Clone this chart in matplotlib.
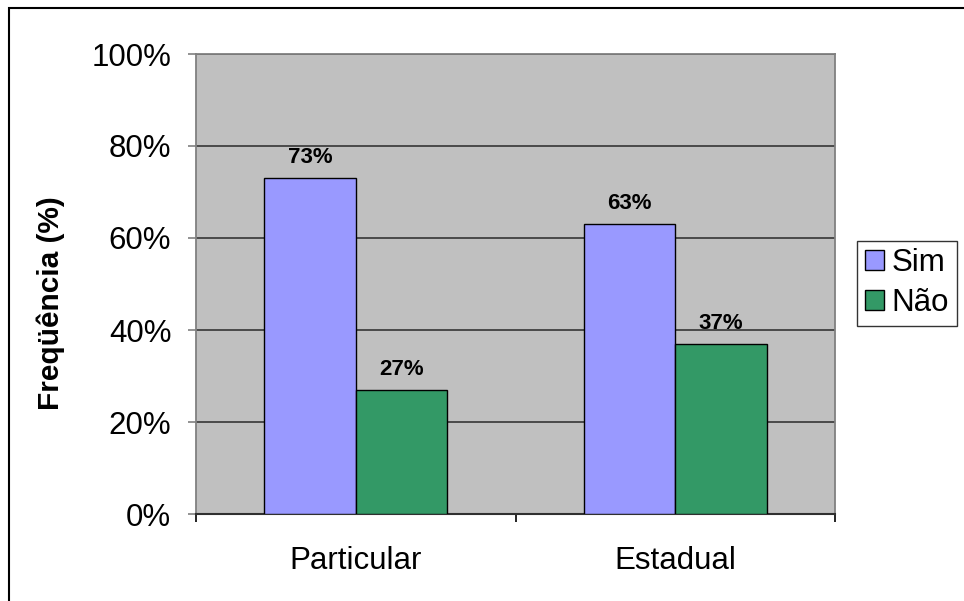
import matplotlib.pyplot as plt
import numpy as np
from matplotlib.patches import Rectangle
from matplotlib.ticker import FuncFormatter

plt.rcParams['font.family'] = ['Liberation Sans', 'DejaVu Sans']

categorias = ['Particular', 'Estadual']
series = ['Sim', 'Não']
sim = [73, 63]
nao = [27, 37]
cores = ['#9999FF', '#339966']

fig = plt.figure(figsize=(9.64, 6.01), dpi=100)
ax = fig.add_axes([196 / 964, 87 / 601, 639 / 964, 460 / 601])
ax.set_facecolor('#C0C0C0')

# moldura do gráfico
fig.patches.append(Rectangle((9 / 964, -0.05), 1.1, 1 - 8 / 601 + 0.05,
                             transform=fig.transFigure, fill=False,
                             edgecolor='black', linewidth=1.5))

x = np.arange(len(categorias))
largura = 1 / 3.5
for i, (nome, valores) in enumerate(zip(series, [sim, nao])):
    pos = x + (i - 0.5) * largura
    barras = ax.bar(pos, valores, width=largura, color=cores[i],
                    edgecolor='black', linewidth=1.0, label=nome, zorder=3)
    for b, v in zip(barras, valores):
        ax.text(b.get_x() + b.get_width() / 2, v + 2.2, f'{v}%',
                ha='center', va='bottom', fontsize=16, fontweight='bold',
                zorder=4)

ax.set_xlim(-0.5, 1.5)
ax.set_ylim(0, 100)
ax.set_yticks(range(0, 101, 20))
ax.yaxis.set_major_formatter(FuncFormatter(lambda v, p: f'{int(v)}%'))
ax.set_xticks([-0.5, 0.5, 1.5])
ax.set_xticklabels([])
ax.set_xticks(x, minor=True)
ax.set_xticklabels(categorias, minor=True)
ax.tick_params(axis='x', which='minor', length=0, labelsize=22.5, pad=23)
ax.tick_params(axis='x', which='major', length=5.8, width=1.2, color='black')
ax.tick_params(axis='y', length=5.8, width=1.2, color='#808080',
               labelsize=22.5, pad=12)

ax.grid(axis='y', color='#404040', linewidth=1.3, zorder=1)
ax.set_axisbelow(True)
for lado in ['left', 'right', 'top']:
    ax.spines[lado].set_color('#808080')
    ax.spines[lado].set_linewidth(1.3)
ax.spines['bottom'].set_color('#303030')
ax.spines['bottom'].set_linewidth(1.5)

# título do eixo y, um pouco abaixo do centro da área de plotagem
fig.text(51 / 964, 1 - 303 / 601, 'Freqüência (%)', rotation=90,
         ha='center', va='center', fontsize=21.5, fontweight='bold')

leg = ax.legend(loc='center left', bbox_to_anchor=(857 / 964, 318 / 601),
                bbox_transform=fig.transFigure, fontsize=22.5, frameon=True,
                fancybox=False, edgecolor='black', handlelength=0.6,
                handleheight=0.6, handletextpad=0.25, borderpad=0.25,
                labelspacing=0.3, borderaxespad=0)
leg.get_frame().set_linewidth(1.0)

fig.savefig('out.png', dpi=100)
